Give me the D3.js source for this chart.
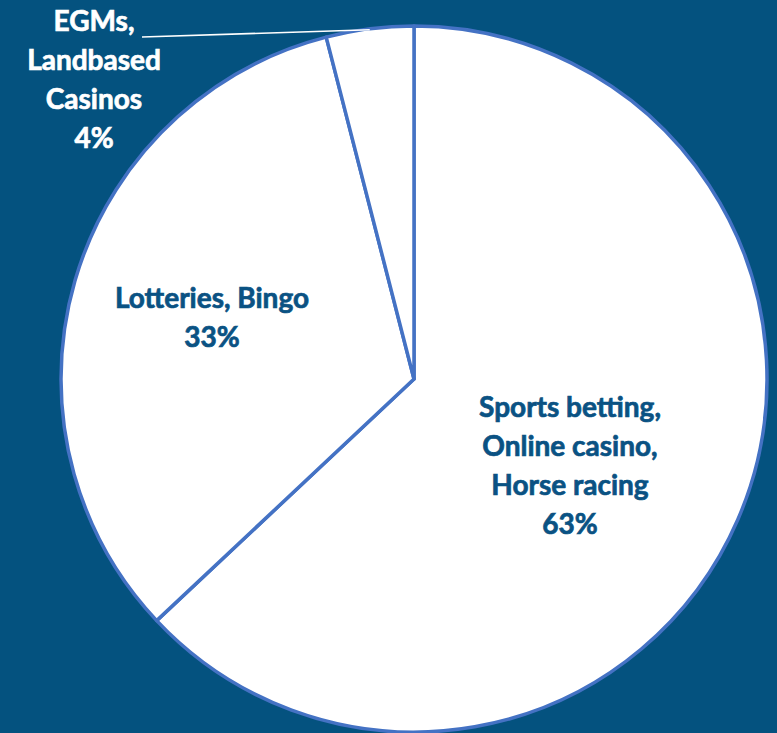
<!DOCTYPE html>
<html>
<head>
<meta charset="utf-8">
<script src="https://cdn.jsdelivr.net/npm/d3@7"></script>
<style>
  html, body { margin: 0; padding: 0; background: #04527F; }
  svg { display: block; }
  text { font-family: Lato, "Open Sans", sans-serif; font-weight: 700; }
</style>
</head>
<body>
<svg id="chart" width="777" height="733"></svg>
<script>
// Share of gambling revenue by product group (clockwise from 12 o'clock)
const categories = [
  "Sports betting, Online casino, Horse racing",
  "Lotteries, Bingo",
  "EGMs, Landbased Casinos"
];
const shares = [63, 33, 4];
const labelLines = [
  ["Sports betting,", "Online casino,", "Horse racing"],
  ["Lotteries, Bingo"],
  ["EGMs,", "Landbased", "Casinos"]
];

// Layout
const W = 777, H = 733;
const cx = 414, cy = 379, radius = 353;
const bg = "#04527F";
const inkDark = "#0A5283";
const sliceStroke = "#4472C4";
const fontSize = 28;
const lineGap = 39;

// label anchors (centre of first baseline) and text colour per slice
const labelAnchor = [
  { x: 570, y: 417, fill: inkDark },
  { x: 212, y: 308, fill: inkDark },
  { x: 94,  y: 31,  fill: "#FFFFFF" }
];

const svg = d3.select("#chart");
svg.append("rect").attr("width", W).attr("height", H).attr("fill", bg);

const data = categories.map((c, i) => ({ category: c, value: shares[i], lines: labelLines[i], i }));

const pie = d3.pie().sort(null).value(d => d.value).startAngle(0).endAngle(2 * Math.PI);
const arc = d3.arc().innerRadius(0).outerRadius(radius);
const arcs = pie(data);

const g = svg.append("g").attr("transform", `translate(${cx},${cy})`);

g.selectAll("path.slice")
  .data(arcs)
  .join("path")
  .attr("class", "slice")
  .attr("d", arc)
  .attr("fill", "#FFFFFF")
  .attr("stroke", sliceStroke)
  .attr("stroke-width", 3.5)
  .attr("stroke-linejoin", "round");

// leader line from the small slice's outer edge to its label
const small = arcs[2];
const mid = (small.startAngle + small.endAngle) / 2;
const edgePt = [
  cx + radius * Math.sin(mid),
  cy - radius * Math.cos(mid) + 1
];
svg.append("line")
  .attr("x1", 142).attr("y1", 37)
  .attr("x2", edgePt[0]).attr("y2", edgePt[1])
  .attr("stroke", "#FFFFFF")
  .attr("stroke-width", 1.6);

// data labels
arcs.forEach((a, i) => {
  const anchor = labelAnchor[i];
  const lines = a.data.lines.concat([a.data.value + "%"]);
  const t = svg.append("text")
    .attr("text-anchor", "middle")
    .attr("font-size", fontSize)
    .attr("fill", anchor.fill)
    .attr("stroke", anchor.fill)
    .attr("stroke-width", 0.7)
    .attr("paint-order", "stroke");
  lines.forEach((ln, k) => {
    t.append("tspan")
      .attr("x", anchor.x)
      .attr("y", anchor.y + k * lineGap)
      .text(ln);
  });
});
</script>
</body>
</html>
